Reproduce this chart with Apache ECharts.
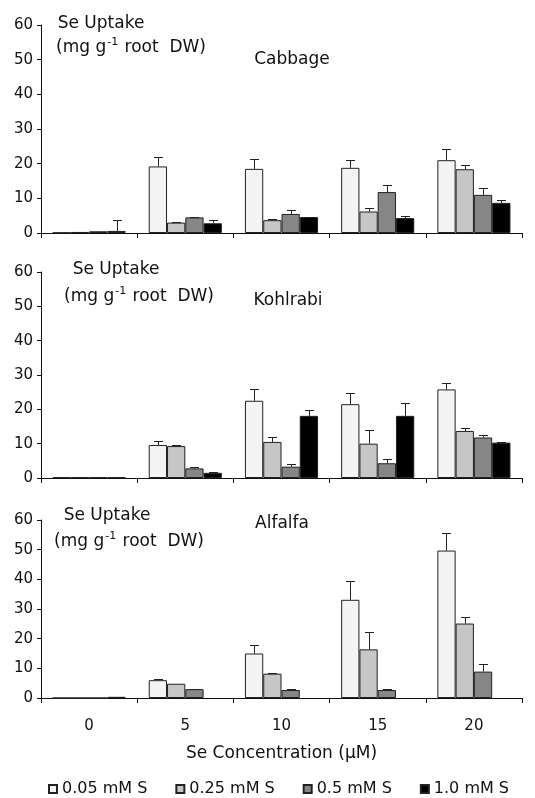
<!DOCTYPE html>
<html>
<head>
<meta charset="utf-8">
<script src="https://cdn.jsdelivr.net/npm/echarts@6/dist/echarts.min.js"></script>
<style>
  html, body { margin: 0; padding: 0; background: #fff; }
  #main { width: 535px; height: 798px; }
</style>
</head>
<body>
<div id="main"></div>
<script>
var categories = ['0', '5', '10', '15', '20'];
var seriesNames = ['0.05 mM S', '0.25 mM S', '0.5 mM S', '1.0 mM S'];
var yTicks = [0, 10, 20, 30, 40, 50, 60];

// cabbage
var cabbage005 = [0.1, 19.2, 18.5, 18.8, 21.0];
var cabbage025 = [0.3, 3.0, 3.7, 6.2, 18.4];
var cabbage05 = [0.5, 4.5, 5.5, 11.8, 11.0];
var cabbage10 = [0.6, 2.8, 4.6, 4.3, 8.7];
var cabbageErr005 = [0, 2.8, 2.8, 2.2, 3.1];
var cabbageErr025 = [0, 0.2, 0.3, 1.0, 1.2];
var cabbageErr05 = [0, 0.1, 1.1, 2.1, 1.9];
var cabbageErr10 = [3.2, 1.0, 0.1, 0.7, 0.8];

// kohlrabi
var kohlrabi005 = [0.2, 9.6, 22.5, 21.5, 25.8];
var kohlrabi025 = [0.2, 9.3, 10.5, 10.0, 13.7];
var kohlrabi05 = [0.2, 2.8, 3.3, 4.3, 11.8];
var kohlrabi10 = [0.2, 1.5, 18.1, 18.1, 10.3];
var kohlrabiErr005 = [0, 1.2, 3.4, 3.4, 1.9];
var kohlrabiErr025 = [0, 0.3, 1.3, 3.9, 0.9];
var kohlrabiErr05 = [0, 0.3, 0.8, 1.3, 0.7];
var kohlrabiErr10 = [0, 0.3, 1.7, 3.7, 0.2];

// alfalfa
var alfalfa005 = [0, 6.0, 15.0, 33.1, 49.7];
var alfalfa025 = [0, 4.8, 8.2, 16.4, 25.1];
var alfalfa05 = [0, 3.0, 2.7, 2.7, 8.9];
var alfalfa10 = [0.4, null, null, null, null];
var alfalfaErr005 = [0, 0.3, 2.9, 6.4, 6.0];
var alfalfaErr025 = [0, 0, 0.3, 6.0, 2.2];
var alfalfaErr05 = [0, 0.1, 0.3, 0.3, 2.5];
var alfalfaErr10 = [0, 0, 0, 0, 0];

var colors = ['#f4f4f4', '#c6c6c6', '#868686', '#000000'];
var font = 'DejaVu Sans';

var panels = [
  { vals: [cabbage005, cabbage025, cabbage05, cabbage10],
    errs: [cabbageErr005, cabbageErr025, cabbageErr05, cabbageErr10] },
  { vals: [kohlrabi005, kohlrabi025, kohlrabi05, kohlrabi10],
    errs: [kohlrabiErr005, kohlrabiErr025, kohlrabiErr05, kohlrabiErr10] },
  { vals: [alfalfa005, alfalfa025, alfalfa05, alfalfa10],
    errs: [alfalfaErr005, alfalfaErr025, alfalfaErr05, alfalfaErr10] }
];

var grids = [
  { left: 41, right: 13, top: 25, height: 208 },
  { left: 41, right: 13, top: 272, height: 206 },
  { left: 41, right: 13, top: 520, height: 178 }
];

var xAxes = [], yAxes = [], series = [];
grids.forEach(function (g, gi) {
  var last = gi === 2;
  xAxes.push({
    type: 'category', gridIndex: gi, data: categories,
    axisLine: { lineStyle: { color: '#111', width: 1 } },
    axisTick: { show: true, length: 5, lineStyle: { color: '#111' } },
    axisLabel: { show: last, fontFamily: font, fontSize: 15, color: '#111', margin: 21 },
    name: last ? 'Se Concentration (\u00b5M)' : '',
    nameLocation: 'middle', nameGap: 47,
    nameTextStyle: { fontFamily: font, fontSize: 17, color: '#111' }
  });
  yAxes.push({
    type: 'value', gridIndex: gi, min: yTicks[0], max: yTicks[yTicks.length - 1], interval: 10,
    axisLine: { show: true, lineStyle: { color: '#111', width: 1 } },
    axisTick: { show: true, length: 4, lineStyle: { color: '#111' } },
    splitLine: { show: false },
    axisLabel: { fontFamily: font, fontSize: 15, color: '#111', margin: 8 }
  });
  var p = panels[gi];
  seriesNames.forEach(function (name, k) {
    series.push({
      type: 'bar', name: name, xAxisIndex: gi, yAxisIndex: gi,
      data: p.vals[k], barGap: '0%', barCategoryGap: '24%',
      itemStyle: { color: colors[k], borderColor: '#222', borderWidth: 1 },
      animation: false
    });
  });
  seriesNames.forEach(function (name, k) {
    series.push({
      type: 'custom', xAxisIndex: gi, yAxisIndex: gi, z: 5, silent: true,
      animation: false,
      renderItem: function (params, api) {
        var cat = api.value(0), v = api.value(1), e = api.value(2);
        if (!e || v === null || isNaN(v)) return;
        var band = api.size([1, 0])[0];
        var bw = band * 0.76 / 4;
        var x = Math.round(api.coord([cat, 0])[0] + (k - 1.5) * bw) + 0.5;
        var y0 = api.coord([cat, v])[1];
        var y1 = Math.round(api.coord([cat, v + e])[1]) + 0.5;
        return {
          type: 'group',
          children: [
            { type: 'line', shape: { x1: x, y1: y0, x2: x, y2: y1 },
              style: { stroke: '#222', lineWidth: 1 } },
            { type: 'line', shape: { x1: x - 4.5, y1: y1, x2: x + 4.5, y2: y1 },
              style: { stroke: '#222', lineWidth: 1 } }
          ]
        };
      },
      data: p.vals[k].map(function (v, i) { return [i, v, p.errs[k][i]]; })
    });
  });
});

var rich = {
  m: { fontFamily: font, fontSize: 17, color: '#111' },
  sup: { fontFamily: font, fontSize: 11, color: '#111', padding: [0, 1, 12, 1] }
};
function label(x, y, text, align) {
  return {
    type: 'text', x: x, y: y, silent: true,
    style: { text: text, rich: rich, fontFamily: font, fontSize: 17, fill: '#111',
      align: align || 'center', verticalAlign: 'middle' }
  };
}
var unitText = '{m|(mg g}{sup|-1}{m| root  DW)}';

var graphics = [
  label(101, 24, '{m|Se Uptake}'),
  label(131, 48, unitText),
  label(292, 60, '{m|Cabbage}'),
  label(116, 270, '{m|Se Uptake}'),
  label(139, 297, unitText),
  label(288, 301, '{m|Kohlrabi}'),
  label(107, 516, '{m|Se Uptake}'),
  label(129, 542, unitText),
  label(282, 524, '{m|Alfalfa}')
];

var chart = echarts.init(document.getElementById('main'));
chart.setOption({
  animation: false,
  grid: grids,
  xAxis: xAxes,
  yAxis: yAxes,
  series: series,
  graphic: graphics,
  legend: {
    data: seriesNames, left: 48, top: 781, padding: 0,
    icon: 'rect', itemWidth: 8, itemHeight: 8, itemGap: 28,
    textStyle: { fontFamily: font, fontSize: 16, color: '#111' }
  }
});
</script>
</body>
</html>
